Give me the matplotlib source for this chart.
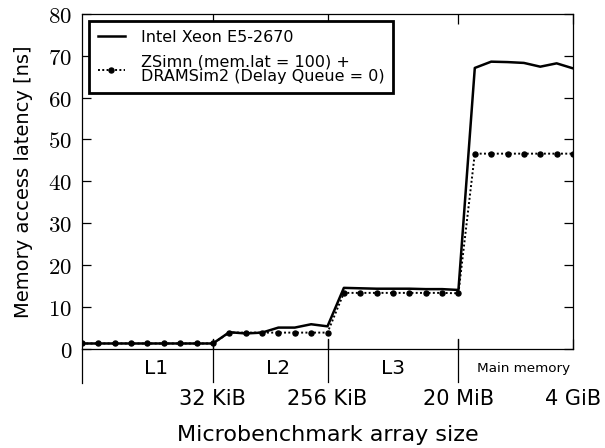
import matplotlib
matplotlib.use("Agg")
import matplotlib.pyplot as plt

# x positions are sample indices along the array-size sweep
sample_idx = list(range(31))

xeon_latency = [1.2, 1.2, 1.2, 1.2, 1.2, 1.2, 1.2, 1.2, 1.2,
                3.9, 3.6, 3.8, 5.0, 5.0, 5.8, 5.3,
                14.5, 14.4, 14.3, 14.3, 14.3, 14.2, 14.2, 14.0,
                67.1, 68.6, 68.5, 68.3, 67.4, 68.2, 67.0]

zsim_latency = [1.2, 1.2, 1.2, 1.2, 1.2, 1.2, 1.2, 1.2, 1.2,
                3.8, 3.8, 3.8, 3.8, 3.8, 3.8, 3.8,
                13.3, 13.3, 13.3, 13.3, 13.3, 13.3, 13.3, 13.2,
                46.6, 46.6, 46.6, 46.6, 46.6, 46.6, 46.6]

size_ticks = [8, 15, 23, 30]
size_labels = ["32 KiB", "256 KiB", "20 MiB", "4 GiB"]
boundaries = [8, 15, 23]
level_pos = [4.5, 12, 19, 27]
level_names = ["L1", "L2", "L3", "Main memory"]
y_ticks = [0, 10, 20, 30, 40, 50, 60, 70, 80]

plt.rcParams["font.family"] = "DejaVu Sans"
plt.rcParams["mathtext.fontset"] = "cm"

fig = plt.figure(figsize=(6.05, 4.48), dpi=100)
ax = fig.add_axes([82 / 605, 1 - 348.5 / 448, 491 / 605, 334.5 / 448])

ax.plot(sample_idx, xeon_latency, color="black", lw=1.8, label="Intel Xeon E5-2670")
ax.plot(sample_idx, zsim_latency, color="black", lw=1.4, ls=(0, (1, 1.2)),
        marker="o", ms=3.6, label="ZSimn (mem.lat = 100) +\nDRAMSim2 (Delay Queue = 0)")

ax.set_xlim(0, 30)
ax.set_ylim(0, 80)

for sp in ax.spines.values():
    sp.set_linewidth(0.9)

ax.set_yticks(y_ticks)
ax.set_yticklabels([f"${v}$" for v in y_ticks], fontsize=16.5)
ax.tick_params(axis="y", direction="in", length=6.5, width=0.9, right=True, pad=7)

ax.set_xticks(size_ticks)
ax.set_xticklabels(size_labels, fontsize=15)
ax.tick_params(axis="x", bottom=True, top=True, direction="in", length=7,
               width=0.9, pad=29)

# extend the cache-level separators below the axis
xt = ax.get_xaxis_transform()
for b in boundaries:
    ax.plot([b, b], [-0.1, 0.028], color="black", lw=0.9, transform=xt, clip_on=False)
ax.plot([0, 0], [-0.103, 0], color="black", lw=0.9, transform=ax.transAxes, clip_on=False)

for p, name in zip(level_pos, level_names):
    ax.text(p, -0.06, name, transform=xt, ha="center", va="center",
            fontsize=9.7 if name == "Main memory" else 14.5)

ax.set_xlabel("Microbenchmark array size", fontsize=16, labelpad=12)
ax.set_ylabel("Memory access latency [ns]", fontsize=14, labelpad=11)

leg = ax.legend(loc="upper left", bbox_to_anchor=(0.014, 0.979), fontsize=11.5,
                fancybox=False, framealpha=1, edgecolor="black",
                handlelength=1.7, handletextpad=1.0, borderaxespad=0,
                labelspacing=0.6, borderpad=0.55)
leg.get_frame().set_linewidth(2)
for t in leg.get_texts():
    t.set_linespacing(1.0)

fig.savefig("out.png", dpi=100)
